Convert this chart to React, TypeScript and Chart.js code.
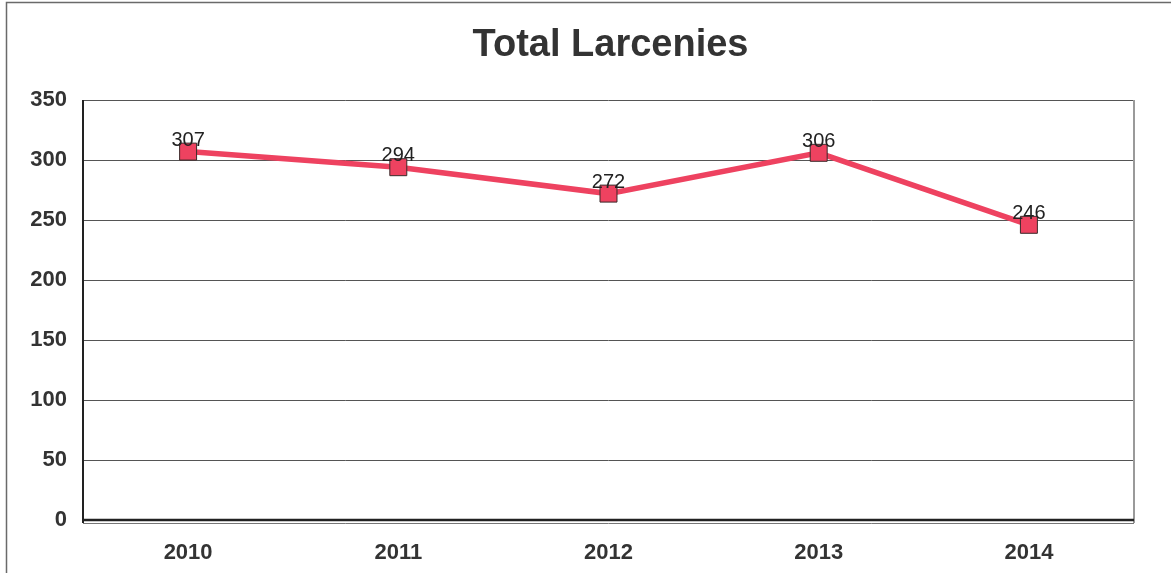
import React, { useEffect, useRef } from "react";
import { Chart, registerables } from "chart.js";

Chart.register(...registerables);

const years = ["2010", "2011", "2012", "2013", "2014"];
const larcenies = [307, 294, 272, 306, 246];
const yTicks = [0, 50, 100, 150, 200, 250, 300, 350];
const chartTitle = "Total Larcenies";

const FONT = "'Liberation Sans', Arial, sans-serif";

const decorPlugin = {
  id: "decor",
  beforeDraw(chart: any) {
    const { ctx, width } = chart;
    ctx.save();
    ctx.fillStyle = "#ffffff";
    ctx.fillRect(0, 0, chart.width, chart.height);
    ctx.strokeStyle = "#6a6a6a";
    ctx.lineWidth = 1.5;
    ctx.beginPath();
    ctx.moveTo(6.5, chart.height);
    ctx.lineTo(6.5, 2.5);
    ctx.lineTo(width, 2.5);
    ctx.stroke();
    ctx.fillStyle = "#333333";
    ctx.font = `bold 38px ${FONT}`;
    ctx.textAlign = "center";
    ctx.textBaseline = "alphabetic";
    const ca = chart.chartArea;
    ctx.fillText(chartTitle, (ca.left + ca.right) / 2 + 2, 56);
    ctx.restore();
  },
  afterDatasetsDraw(chart: any) {
    const { ctx, chartArea: ca } = chart;
    ctx.save();
    ctx.strokeStyle = "#9a9a9a";
    ctx.lineWidth = 2;
    ctx.beginPath();
    ctx.moveTo(ca.right, ca.top);
    ctx.lineTo(ca.right, ca.bottom + 3);
    ctx.stroke();
    ctx.strokeStyle = "#222222";
    ctx.lineWidth = 2;
    ctx.beginPath();
    ctx.moveTo(ca.left, ca.top);
    ctx.lineTo(ca.left, ca.bottom + 3);
    ctx.stroke();
    ctx.lineWidth = 2.5;
    ctx.beginPath();
    ctx.moveTo(ca.left, ca.bottom);
    ctx.lineTo(ca.right, ca.bottom);
    ctx.stroke();
    ctx.strokeStyle = "#777777";
    ctx.lineWidth = 1;
    ctx.beginPath();
    ctx.moveTo(ca.left, ca.bottom + 3.5);
    ctx.lineTo(ca.right, ca.bottom + 3.5);
    ctx.stroke();
    const meta = chart.getDatasetMeta(0);
    ctx.fillStyle = "#222222";
    ctx.font = `20px ${FONT}`;
    ctx.textAlign = "center";
    ctx.textBaseline = "alphabetic";
    meta.data.forEach((pt: any, i: number) => {
      ctx.fillText(String(chart.data.datasets[0].data[i]), pt.x, pt.y - 6);
    });
    ctx.restore();
  },
};

export default function App() {
  const ref = useRef<HTMLCanvasElement | null>(null);
  useEffect(() => {
    document.body.style.margin = "0";
    const chart = new Chart(ref.current as HTMLCanvasElement, {
      type: "line",
      data: {
        labels: years,
        datasets: [
          {
            data: larcenies,
            borderColor: "#ee4260",
            borderWidth: 5.5,
            backgroundColor: "#ee4260",
            pointStyle: "rect",
            pointRadius: 12,
            pointBorderColor: "#3a2a2a",
            pointBorderWidth: 1,
            tension: 0,
          },
        ],
      },
      options: {
        animation: false,
        responsive: false,
        maintainAspectRatio: false,
        layout: { padding: { left: 6, right: 37, top: 100, bottom: 0 } },
        plugins: {
          legend: { display: false },
          title: { display: false },
          tooltip: { enabled: false },
        },
        scales: {
          x: {
            type: "category",
            offset: true,
            grid: { display: false, drawTicks: false },
            border: { display: false },
            ticks: {
              color: "#333333",
              font: { family: FONT, size: 22, weight: "bold" },
              padding: 20,
            },
            afterFit(scale: any) {
              scale.height = 53;
            },
          },
          y: {
            min: 0,
            max: 350,
            afterBuildTicks(scale: any) {
              scale.ticks = yTicks.map((v) => ({ value: v }));
            },
            grid: { color: "#555555", lineWidth: 1, drawTicks: false },
            border: { display: false },
            ticks: {
              color: "#333333",
              font: { family: FONT, size: 22, weight: "bold" },
              padding: 16,
            },
            afterFit(scale: any) {
              scale.width = 77;
            },
          },
        },
      },
      plugins: [decorPlugin],
    });
    return () => chart.destroy();
  }, []);
  return (
    <div style={{ width: 1171, height: 573 }}>
      <canvas ref={ref} width={1171} height={573} style={{ display: "block" }} />
    </div>
  );
}
